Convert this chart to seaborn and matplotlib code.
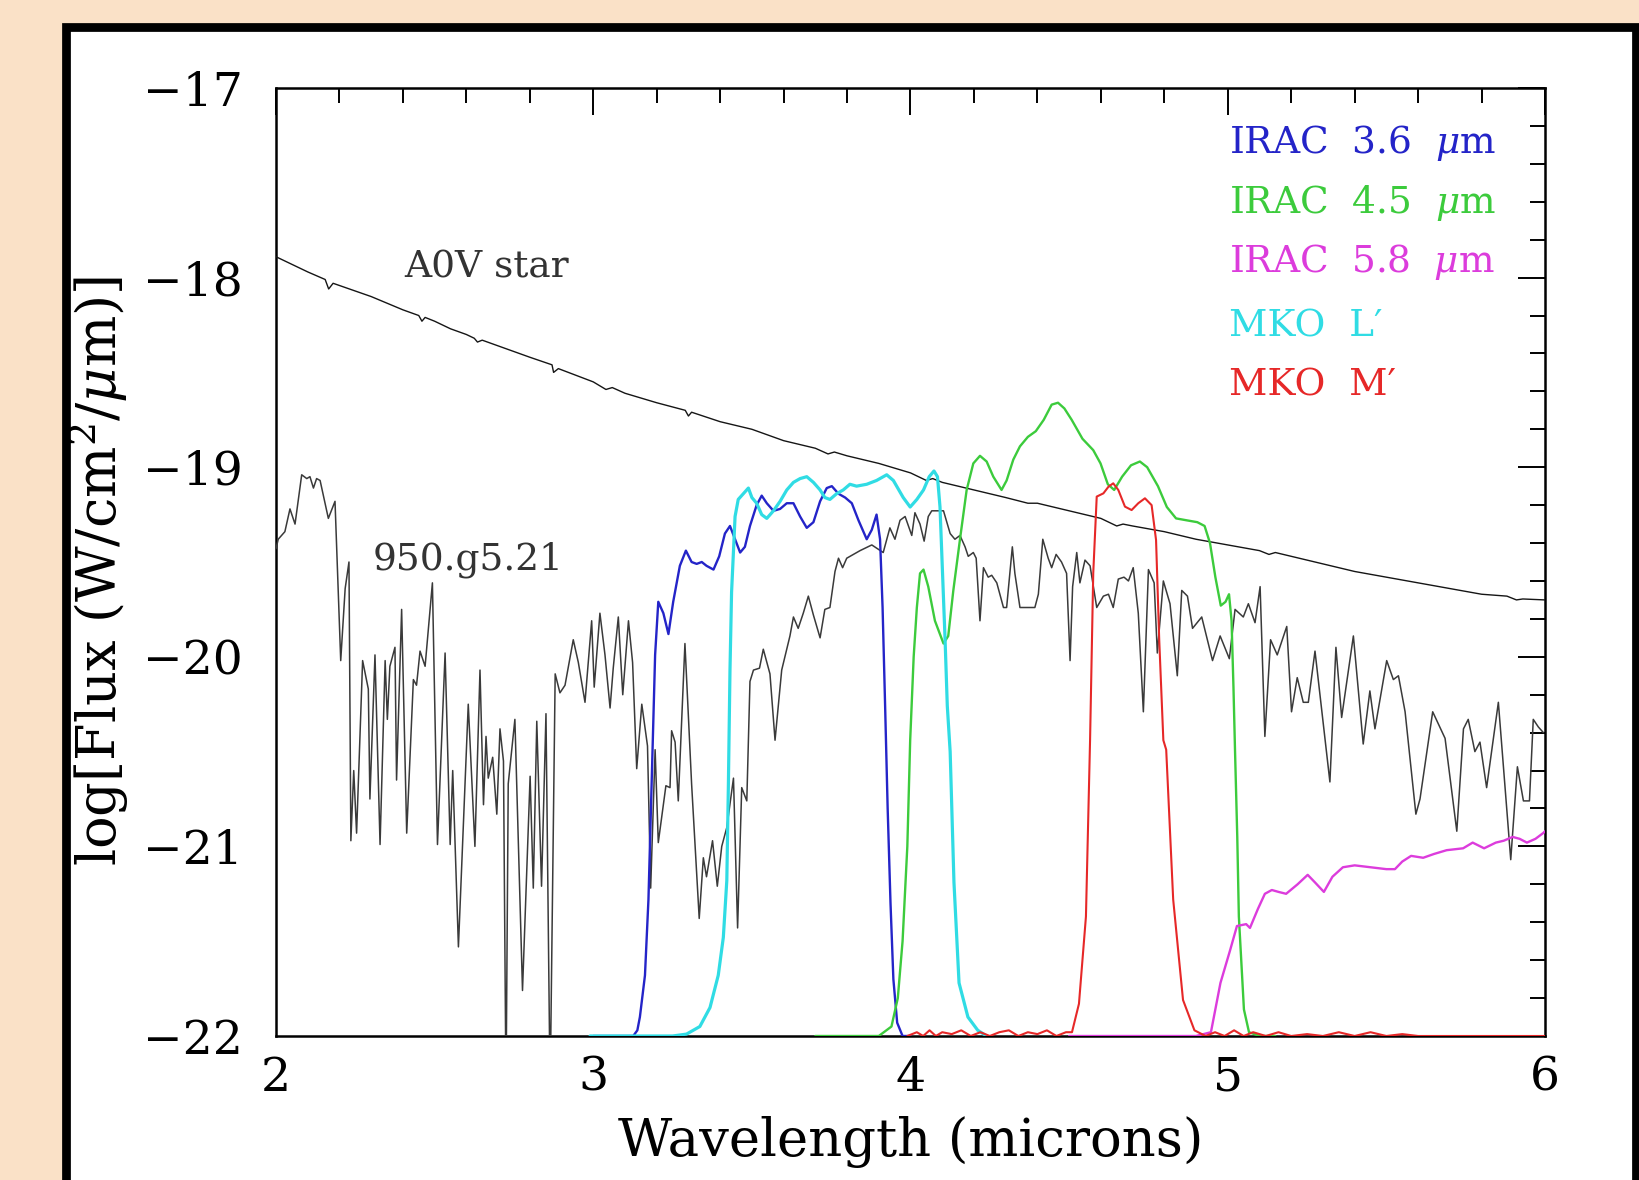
import matplotlib
matplotlib.use("Agg")
import matplotlib.pyplot as plt
import seaborn as sns
from matplotlib.patches import Rectangle
from matplotlib.ticker import MultipleLocator

# ---------------- data ----------------
a0v_wave = [2.00, 2.10, 2.155, 2.166, 2.18, 2.30, 2.40, 2.45, 2.46, 2.47, 2.50, 2.55, 2.60, 2.625,
            2.635, 2.65, 2.70, 2.80, 2.87, 2.875, 2.89, 3.00, 3.04, 3.06, 3.10, 3.20, 3.29, 3.30,
            3.31, 3.40, 3.50, 3.60, 3.70, 3.74, 3.76, 3.80, 3.90, 4.00, 4.05, 4.07, 4.10, 4.20,
            4.30, 4.37, 4.40, 4.50, 4.60, 4.65, 4.67, 4.70, 4.80, 4.90, 5.00, 5.10, 5.13, 5.15,
            5.20, 5.30, 5.40, 5.50, 5.60, 5.70, 5.80, 5.88, 5.91, 5.93, 6.00]
a0v_flux = [-17.89, -17.97, -18.01, -18.06, -18.03, -18.10, -18.17, -18.20, -18.23, -18.21, -18.23,
            -18.27, -18.30, -18.32, -18.34, -18.33, -18.36, -18.42, -18.46, -18.50, -18.48, -18.55,
            -18.59, -18.58, -18.61, -18.66, -18.70, -18.73, -18.71, -18.76, -18.80, -18.86, -18.90,
            -18.93, -18.92, -18.94, -18.98, -19.03, -19.07, -19.06, -19.08, -19.12, -19.16, -19.19,
            -19.19, -19.23, -19.27, -19.31, -19.30, -19.31, -19.34, -19.38, -19.41, -19.44, -19.46,
            -19.45, -19.47, -19.51, -19.55, -19.58, -19.61, -19.64, -19.67, -19.68, -19.70, -19.695,
            -19.70]

bd_wave = [2.000, 2.007, 2.028, 2.044, 2.060, 2.081, 2.097, 2.107, 2.118, 2.128, 2.139, 2.165, 2.186,
           2.204, 2.218, 2.230, 2.236, 2.245, 2.254, 2.273, 2.291, 2.296, 2.312, 2.328, 2.344, 2.351,
           2.359, 2.375, 2.380, 2.396, 2.412, 2.433, 2.443, 2.454, 2.470, 2.493, 2.509, 2.533, 2.549,
           2.557, 2.575, 2.606, 2.627, 2.643, 2.654, 2.662, 2.669, 2.683, 2.696, 2.706, 2.717, 2.725,
           2.732, 2.753, 2.777, 2.801, 2.811, 2.822, 2.837, 2.851, 2.864, 2.880, 2.895, 2.911, 2.937,
           2.953, 2.974, 2.995, 3.003, 3.021, 3.037, 3.053, 3.063, 3.079, 3.093, 3.111, 3.124, 3.137,
           3.153, 3.171, 3.181, 3.195, 3.205, 3.229, 3.242, 3.247, 3.258, 3.268, 3.289, 3.310, 3.334,
           3.347, 3.357, 3.376, 3.391, 3.405, 3.421, 3.442, 3.455, 3.468, 3.484, 3.494, 3.505, 3.524,
           3.536, 3.557, 3.573, 3.594, 3.620, 3.631, 3.646, 3.662, 3.678, 3.694, 3.715, 3.730, 3.746,
           3.762, 3.773, 3.786, 3.799, 3.820, 3.841, 3.878, 3.914, 3.935, 3.951, 3.967, 3.983, 4.004,
           4.014, 4.030, 4.043, 4.056, 4.067, 4.085, 4.104, 4.125, 4.140, 4.156, 4.172, 4.182, 4.198,
           4.207, 4.219, 4.230, 4.245, 4.256, 4.272, 4.293, 4.303, 4.321, 4.329, 4.345, 4.366, 4.392,
           4.403, 4.417, 4.434, 4.445, 4.459, 4.476, 4.492, 4.503, 4.511, 4.524, 4.534, 4.550, 4.566,
           4.587, 4.608, 4.624, 4.639, 4.655, 4.673, 4.687, 4.702, 4.718, 4.734, 4.750, 4.768, 4.778,
           4.797, 4.818, 4.841, 4.855, 4.873, 4.889, 4.918, 4.952, 4.976, 5.005, 5.023, 5.049, 5.065,
           5.086, 5.102, 5.117, 5.135, 5.156, 5.186, 5.201, 5.219, 5.238, 5.254, 5.275, 5.322, 5.341,
           5.359, 5.396, 5.427, 5.448, 5.464, 5.501, 5.522, 5.538, 5.559, 5.593, 5.606, 5.646, 5.685,
           5.722, 5.743, 5.758, 5.779, 5.795, 5.816, 5.853, 5.892, 5.913, 5.932, 5.951, 5.963, 5.979,
           5.995]
bd_flux = [-19.43, -19.38, -19.34, -19.22, -19.30, -19.04, -19.06, -19.05, -19.11, -19.06, -19.07,
           -19.27, -19.18, -20.02, -19.64, -19.50, -20.97, -20.60, -20.93, -20.02, -20.17, -20.75,
           -19.99, -20.99, -20.02, -20.33, -20.05, -19.95, -20.65, -19.75, -20.93, -20.12, -20.15,
           -19.97, -20.05, -19.61, -20.99, -19.98, -20.99, -20.60, -21.53, -20.25, -21.00, -20.07,
           -20.78, -20.42, -20.64, -20.53, -20.83, -20.38, -20.55, -22.30, -20.67, -20.33, -21.76,
           -20.63, -21.22, -20.34, -21.21, -20.30, -22.30, -20.09, -20.19, -20.15, -19.91, -20.03,
           -20.24, -19.81, -20.16, -19.77, -19.99, -20.27, -20.06, -19.79, -20.20, -19.81, -20.03,
           -20.59, -20.25, -20.47, -21.22, -20.49, -20.98, -20.68, -20.69, -20.39, -20.45, -20.76,
           -19.93, -20.67, -21.38, -21.06, -21.16, -20.97, -21.21, -21.00, -20.90, -20.64, -21.43,
           -20.69, -20.76, -20.13, -20.07, -20.06, -19.96, -20.09, -20.44, -20.07, -19.89, -19.79,
           -19.85, -19.77, -19.68, -19.78, -19.90, -19.75, -19.74, -19.55, -19.48, -19.53, -19.48,
           -19.46, -19.44, -19.41, -19.45, -19.32, -19.38, -19.28, -19.26, -19.36, -19.24, -19.30,
           -19.39, -19.26, -19.23, -19.23, -19.23, -19.35, -19.38, -19.36, -19.42, -19.47, -19.45,
           -19.48, -19.81, -19.53, -19.58, -19.57, -19.61, -19.74, -19.74, -19.42, -19.56, -19.74,
           -19.74, -19.74, -19.67, -19.38, -19.48, -19.53, -19.46, -19.50, -19.56, -20.02, -19.63,
           -19.45, -19.61, -19.49, -19.52, -19.74, -19.68, -19.67, -19.74, -19.59, -19.58, -19.60,
           -19.53, -19.77, -20.29, -19.54, -19.61, -19.98, -19.60, -19.72, -20.10, -19.65, -19.68,
           -19.85, -19.79, -20.02, -19.89, -20.01, -19.75, -19.79, -19.72, -19.82, -19.63, -20.42,
           -19.91, -19.99, -19.84, -20.29, -20.11, -20.24, -20.24, -19.97, -20.66, -19.95, -20.32,
           -19.89, -20.46, -20.18, -20.38, -20.02, -20.12, -20.10, -20.29, -20.83, -20.75, -20.29,
           -20.43, -20.92, -20.38, -20.33, -20.50, -20.45, -20.69, -20.24, -21.07, -20.58, -20.76,
           -20.76, -20.33, -20.37, -20.40]

irac36_wave = [3.00, 3.05, 3.10, 3.126, 3.139, 3.147, 3.163, 3.174, 3.184, 3.195, 3.205, 3.221, 3.237,
               3.252, 3.273, 3.292, 3.310, 3.326, 3.342, 3.357, 3.379, 3.397, 3.415, 3.431, 3.447,
               3.463, 3.478, 3.494, 3.515, 3.531, 3.547, 3.568, 3.589, 3.610, 3.631, 3.652, 3.673,
               3.694, 3.715, 3.736, 3.752, 3.773, 3.794, 3.815, 3.836, 3.862, 3.878, 3.893, 3.904,
               3.912, 3.920, 3.928, 3.937, 3.946, 3.958, 3.975, 4.00]
irac36_flux = [-22.0, -22.0, -22.0, -22.0, -21.97, -21.90, -21.68, -21.28, -20.67, -19.99, -19.71,
               -19.77, -19.88, -19.71, -19.52, -19.44, -19.50, -19.51, -19.50, -19.52, -19.54, -19.47,
               -19.35, -19.31, -19.38, -19.45, -19.42, -19.31, -19.20, -19.15, -19.19, -19.23, -19.22,
               -19.19, -19.19, -19.26, -19.32, -19.29, -19.18, -19.11, -19.10, -19.14, -19.16, -19.19,
               -19.28, -19.38, -19.33, -19.25, -19.38, -19.74, -20.26, -20.80, -21.30, -21.70, -21.93,
               -22.0, -22.0]

mkol_wave = [2.99, 3.05, 3.10, 3.15, 3.20, 3.25, 3.294, 3.336, 3.368, 3.394, 3.410, 3.421, 3.426,
             3.431, 3.436, 3.447, 3.457, 3.473, 3.489, 3.500, 3.515, 3.531, 3.547, 3.568, 3.589,
             3.610, 3.631, 3.652, 3.673, 3.694, 3.715, 3.730, 3.746, 3.767, 3.788, 3.809, 3.830,
             3.862, 3.893, 3.925, 3.946, 3.977, 3.999, 4.020, 4.041, 4.059, 4.074, 4.085, 4.093,
             4.101, 4.109, 4.116, 4.125, 4.137, 4.153, 4.181, 4.212, 4.24]
mkol_flux = [-22.0, -22.0, -22.0, -22.0, -22.0, -22.0, -21.99, -21.95, -21.85, -21.68, -21.48,
             -21.18, -20.67, -20.07, -19.66, -19.26, -19.17, -19.14, -19.11, -19.16, -19.19, -19.25,
             -19.27, -19.23, -19.18, -19.12, -19.08, -19.06, -19.05, -19.08, -19.12, -19.16, -19.17,
             -19.14, -19.12, -19.09, -19.10, -19.09, -19.07, -19.04, -19.07, -19.16, -19.21, -19.17,
             -19.12, -19.05, -19.02, -19.05, -19.21, -19.56, -19.91, -20.26, -20.50, -21.19, -21.72,
             -21.90, -21.97, -22.0]

irac45_wave = [3.70, 3.80, 3.90, 3.94, 3.96, 3.975, 3.99, 3.999, 4.010, 4.020, 4.030, 4.041, 4.056,
               4.077, 4.104, 4.119, 4.135, 4.156, 4.177, 4.198, 4.219, 4.240, 4.261, 4.287, 4.303,
               4.324, 4.345, 4.370, 4.395, 4.420, 4.445, 4.465, 4.485, 4.508, 4.542, 4.576, 4.599,
               4.622, 4.642, 4.667, 4.695, 4.723, 4.746, 4.780, 4.808, 4.837, 4.870, 4.904, 4.927,
               4.944, 4.961, 4.978, 4.993, 5.004, 5.012, 5.018, 5.023, 5.030, 5.035, 5.051, 5.067,
               5.10, 5.15]
irac45_flux = [-22.0, -22.0, -22.0, -21.95, -21.80, -21.50, -21.00, -20.44, -20.00, -19.74, -19.56,
               -19.54, -19.63, -19.81, -19.93, -19.89, -19.65, -19.38, -19.12, -18.98, -18.94, -18.97,
               -19.05, -19.12, -19.07, -18.96, -18.89, -18.84, -18.81, -18.75, -18.67, -18.66, -18.69,
               -18.75, -18.85, -18.91, -18.98, -19.09, -19.12, -19.05, -18.99, -18.97, -19.00, -19.10,
               -19.21, -19.27, -19.28, -19.29, -19.31, -19.40, -19.58, -19.73, -19.71, -19.67, -19.81,
               -20.16, -20.50, -20.95, -21.37, -21.86, -21.98, -22.0, -22.0]

irac58_wave = [4.50, 4.60, 4.70, 4.80, 4.90, 4.947, 4.962, 4.977, 5.007, 5.029, 5.058, 5.070, 5.095,
               5.117, 5.139, 5.160, 5.184, 5.220, 5.252, 5.275, 5.303, 5.330, 5.363, 5.400, 5.450,
               5.500, 5.527, 5.550, 5.578, 5.616, 5.650, 5.690, 5.742, 5.772, 5.808, 5.845, 5.870,
               5.898, 5.920, 5.943, 5.970, 5.994, 6.00]
irac58_flux = [-22.0, -22.0, -22.0, -22.0, -22.0, -21.98, -21.85, -21.72, -21.55, -21.42, -21.41,
               -21.43, -21.33, -21.25, -21.23, -21.24, -21.25, -21.20, -21.15, -21.19, -21.24, -21.16,
               -21.11, -21.10, -21.11, -21.12, -21.12, -21.08, -21.05, -21.06, -21.04, -21.02, -21.01,
               -20.98, -21.01, -20.98, -20.97, -20.95, -20.96, -20.98, -20.96, -20.93, -20.92]

mkom_wave = [3.99, 4.02, 4.04, 4.06, 4.08, 4.10, 4.13, 4.16, 4.19, 4.22, 4.25, 4.28, 4.31, 4.34,
             4.37, 4.40, 4.43, 4.46, 4.49, 4.509, 4.531, 4.553, 4.566, 4.576, 4.587, 4.608, 4.624,
             4.639, 4.655, 4.676, 4.697, 4.718, 4.739, 4.760, 4.774, 4.784, 4.797, 4.806, 4.828,
             4.859, 4.895, 4.93, 4.96, 4.99, 5.02, 5.05, 5.08, 5.12, 5.16, 5.20, 5.25, 5.30, 5.35,
             5.40, 5.45, 5.50, 5.55, 5.60, 5.70, 5.80, 5.90, 6.00]
mkom_flux = [-22.0, -21.98, -22.0, -21.97, -22.0, -21.98, -21.99, -21.97, -22.0, -21.98, -22.0,
             -21.98, -21.97, -22.0, -21.98, -21.99, -21.97, -22.0, -21.98, -21.98, -21.83, -21.37,
             -20.44, -19.56, -19.155, -19.138, -19.103, -19.085, -19.12, -19.208, -19.226, -19.19,
             -19.164, -19.20, -19.384, -19.911, -20.44, -20.49, -21.28, -21.81, -21.97, -22.0,
             -21.98, -22.0, -21.97, -22.0, -21.98, -22.0, -21.98, -22.0, -21.99, -22.0, -21.98,
             -22.0, -21.98, -22.0, -21.99, -22.0, -22.0, -22.0, -22.0, -22.0]

legend_labels = [r"IRAC  3.6  $\mu$m", r"IRAC  4.5  $\mu$m", r"IRAC  5.8  $\mu$m",
                 "MKO  L\u2032", "MKO  M\u2032"]
legend_colors = ["#2424C8", "#3CCB3C", "#DC3CDC", "#30DCE4", "#E62828"]

x_ticks = [2, 3, 4, 5, 6]
y_ticks = [-22, -21, -20, -19, -18, -17]

# ---------------- style ----------------
sns.set_theme(style="white")
plt.rcParams['font.family'] = ['DejaVu Serif']
plt.rcParams['mathtext.fontset'] = 'dejavuserif'
plt.rcParams['axes.unicode_minus'] = True

W, H = 1639, 1180
fig = plt.figure(figsize=(W / 100, H / 100), dpi=100, facecolor='#FAE1C7')

frame = Rectangle((66 / W, -0.02), (1636 - 66) / W, (H - 27) / H + 0.02,
                  transform=fig.transFigure, facecolor='white', edgecolor='black',
                  linewidth=6.3, zorder=-5)
fig.patches.append(frame)

ax = fig.add_axes([276 / W, (H - 1036) / H, (1545 - 276) / W, (1036 - 88) / H])
ax.set_zorder(2)
ax.set_facecolor('white')

# spectra
sns.lineplot(x=a0v_wave, y=a0v_flux, ax=ax, color='#151515', lw=1.0, sort=False,
             estimator=None, zorder=3)
sns.lineplot(x=bd_wave, y=bd_flux, ax=ax, color='#3a3a3a', lw=1.1, sort=False,
             estimator=None, zorder=3)

filters = [(irac36_wave, irac36_flux), (irac45_wave, irac45_flux), (irac58_wave, irac58_flux),
           (mkol_wave, mkol_flux), (mkom_wave, mkom_flux)]
widths = [1.7, 1.7, 1.7, 2.3, 1.5]
for (wv, fl), c, lw in zip(filters, legend_colors, widths):
    sns.lineplot(x=wv, y=fl, ax=ax, color=c, lw=lw, sort=False, estimator=None, zorder=4)

ax.set_xlim(2, 6)
ax.set_ylim(-22, -17)
ax.set_xticks(x_ticks)
ax.set_yticks(y_ticks)
ax.xaxis.set_minor_locator(MultipleLocator(0.2))
ax.yaxis.set_minor_locator(MultipleLocator(0.2))

for s in ax.spines.values():
    s.set_color('black')
    s.set_linewidth(1.8)
    s.set_zorder(2.5)

ax.tick_params(which='both', direction='in', top=True, right=True, colors='black',
               width=1.4, labelcolor='black')
ax.tick_params(which='major', length=19.5, labelsize=34)
ax.tick_params(which='minor', length=10.5)
ax.tick_params(axis='x', which='major', pad=14)
ax.tick_params(axis='y', which='major', pad=24)

ax.set_xlabel("Wavelength (microns)", fontsize=38, color='black')
ax.set_ylabel(r"log[Flux (W/cm$^2$/$\mu$m)]", fontsize=39, color='black')
ax.xaxis.set_label_coords(0.5, -0.084)
ax.yaxis.set_label_coords(-0.114, 0.49)

ax.text(2.405, -17.947, "A0V star", fontsize=27, color='#333333', ha='left', va='center')
ax.text(2.306, -19.486, "950.g5.21", fontsize=27, color='#333333', ha='left', va='center')

legend_y = [-17.291, -17.605, -17.920, -18.256, -18.570]
for lab, c, yy in zip(legend_labels, legend_colors, legend_y):
    ax.text(5.005, yy, lab, fontsize=27, color=c, ha='left', va='center')

fig.savefig("out.png", dpi=100, facecolor=fig.get_facecolor())
